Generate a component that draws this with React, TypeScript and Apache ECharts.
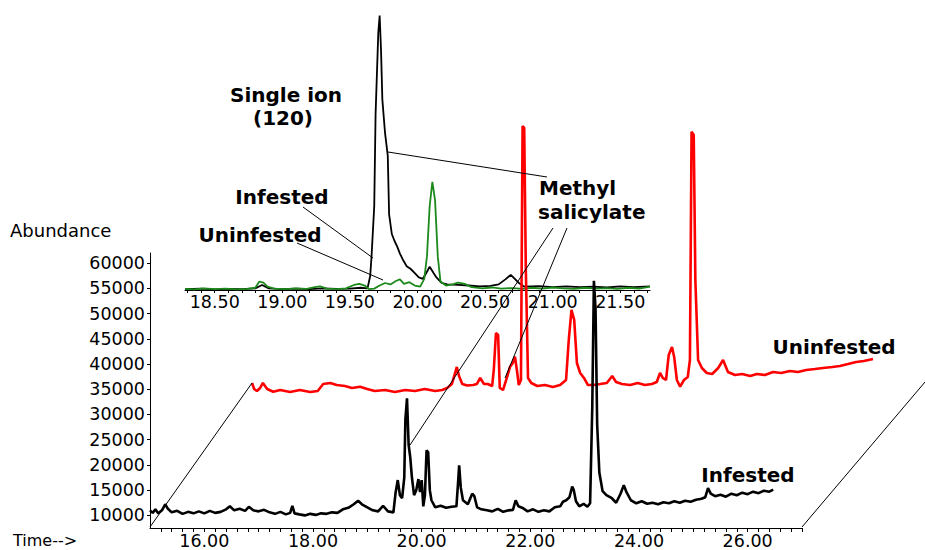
import React, { useEffect, useRef } from "react";
import * as echarts from "echarts";

// ---------- Main chromatogram (total ion), infested sample: [time (min), abundance]
const infestedTIC: [number, number][] = [
  [15.0, 11000], [15.05, 10500], [15.1, 11200], [15.15, 10400], [15.22, 11000], [15.28, 12200],
  [15.33, 11300], [15.4, 10600], [15.5, 10900], [15.6, 10300], [15.7, 10700], [15.8, 10400],
  [15.9, 10800], [16.0, 10400], [16.1, 10900], [16.2, 10500], [16.3, 10700], [16.4, 11200],
  [16.47, 11800], [16.55, 11000], [16.65, 11300], [16.75, 10900], [16.82, 11700], [16.9, 11000],
  [17.0, 10800], [17.1, 11100], [17.2, 10600], [17.3, 10300], [17.4, 10700], [17.5, 10200],
  [17.58, 10500], [17.62, 11900], [17.66, 10400], [17.75, 10200], [17.85, 10000], [17.95, 10300],
  [18.05, 10100], [18.15, 10400], [18.25, 10300], [18.35, 10600], [18.45, 10500], [18.55, 11200],
  [18.65, 11500], [18.75, 12200], [18.83, 12900], [18.9, 12200], [19.0, 11600], [19.1, 11000],
  [19.2, 10800], [19.29, 11900], [19.38, 10800], [19.48, 10600], [19.52, 14500], [19.56, 17000],
  [19.6, 14000], [19.64, 13400], [19.68, 17500], [19.7, 29000], [19.73, 33200], [19.76, 24000],
  [19.79, 21500], [19.82, 17600], [19.86, 14000], [19.9, 15000], [19.94, 17200], [19.97, 14600],
  [20.0, 17000], [20.03, 11800], [20.06, 14000], [20.09, 22900], [20.12, 22500], [20.15, 15000],
  [20.18, 13000], [20.25, 11600], [20.35, 11900], [20.45, 11500], [20.55, 11700], [20.64, 11800],
  [20.67, 16500], [20.69, 19900], [20.72, 15500], [20.76, 13000], [20.85, 12200], [20.93, 14300],
  [20.97, 13800], [21.02, 11600], [21.1, 11200], [21.2, 11000], [21.3, 10800], [21.4, 11300],
  [21.5, 10700], [21.6, 11000], [21.68, 11100], [21.73, 13000], [21.78, 11800], [21.87, 11400],
  [21.95, 10800], [22.05, 11200], [22.15, 10700], [22.25, 11000], [22.35, 10800], [22.45, 11600],
  [22.55, 11800], [22.6, 12700], [22.66, 13000], [22.72, 13600], [22.77, 15700], [22.8, 15000],
  [22.84, 12800], [22.9, 11800], [22.98, 12300], [23.05, 11700], [23.1, 12400], [23.14, 31500],
  [23.17, 56500], [23.2, 51000], [23.23, 28000], [23.27, 18500], [23.33, 14800], [23.4, 14000],
  [23.5, 13400], [23.58, 12500], [23.66, 14300], [23.72, 16000], [23.77, 14600], [23.85, 13000],
  [23.95, 12400], [24.05, 12800], [24.15, 12300], [24.25, 12500], [24.35, 12200], [24.45, 12600],
  [24.55, 12400], [24.65, 12800], [24.75, 12500], [24.85, 12900], [24.95, 12700], [25.05, 13100],
  [25.15, 13300], [25.22, 13600], [25.27, 15400], [25.32, 14300], [25.4, 13800], [25.5, 14100],
  [25.6, 13700], [25.7, 14300], [25.8, 14000], [25.9, 14500], [26.0, 14200], [26.1, 14700],
  [26.2, 14400], [26.3, 14900], [26.4, 14700], [26.47, 15100],
];

// ---------- Main chromatogram (total ion), uninfested sample (drawn on the offset "back" plane)
const uninfestedTIC: [number, number][] = [
  [15.0, 12460], [15.04, 11270], [15.09, 10870], [15.15, 11470], [15.2, 12460], [15.28, 11270],
  [15.39, 10730], [15.52, 11070], [15.7, 10670], [15.88, 11070], [16.07, 10670], [16.21, 10870],
  [16.31, 12260], [16.44, 12460], [16.56, 12060], [16.71, 11860], [16.84, 11470], [16.99, 11720],
  [17.12, 11270], [17.26, 10870], [17.45, 11070], [17.63, 10670], [17.82, 11070], [18.0, 10870],
  [18.18, 11270], [18.37, 10870], [18.5, 11070], [18.59, 11470], [18.68, 12260], [18.77, 15630],
  [18.81, 13850], [18.87, 12260], [18.96, 11960], [19.07, 12060], [19.14, 12260], [19.2, 13450],
  [19.27, 12260], [19.34, 12260], [19.42, 11860], [19.45, 15030], [19.49, 22370], [19.53, 21970],
  [19.56, 11470], [19.62, 11070], [19.69, 13450], [19.75, 15690], [19.8, 16420], [19.84, 17670],
  [19.88, 14640], [19.91, 12060], [19.95, 13050], [19.98, 63390], [20.01, 63000], [20.04, 34860],
  [20.08, 13450], [20.14, 12460], [20.25, 11860], [20.39, 12060], [20.54, 11670], [20.67, 12060],
  [20.78, 13050], [20.83, 20980], [20.88, 26930], [20.93, 24950], [20.98, 16420], [21.04, 14440],
  [21.11, 13450], [21.18, 12060], [21.28, 12060], [21.41, 12260], [21.53, 12460], [21.63, 13850],
  [21.7, 12660], [21.81, 12260], [21.96, 12060], [22.1, 12460], [22.23, 12060], [22.36, 12260],
  [22.45, 12660], [22.51, 14440], [22.56, 13450], [22.62, 13050], [22.67, 18010], [22.73, 19600],
  [22.77, 17610], [22.82, 13050], [22.88, 11720], [22.95, 13050], [23.02, 13640], [23.06, 17020],
  [23.09, 62270], [23.13, 61600], [23.16, 32870], [23.21, 17020], [23.28, 15430], [23.37, 14440],
  [23.47, 14240], [23.58, 15430], [23.67, 17020], [23.76, 14640], [23.89, 14040], [24.02, 14240],
  [24.17, 13850], [24.29, 14240], [24.44, 14040], [24.59, 14640], [24.74, 14440], [24.9, 14840],
  [25.05, 14640], [25.2, 15030], [25.36, 15230], [25.51, 15430], [25.68, 15630], [25.82, 15830],
  [25.97, 16220], [26.12, 16620], [26.26, 16820], [26.43, 17220],
];

// ---------- Inset: single ion 120, relative response (% of inset height)
const infestedIon120: [number, number][] = [
  [18.28, 0.3], [18.4, 0.5], [18.5, 0.2], [18.6, 0.4], [18.7, 0.3], [18.8, 0.6], [18.85, 1.8],
  [18.9, 0.6], [19.0, 0.3], [19.1, 0.5], [19.2, 0.3], [19.3, 0.6], [19.4, 0.4], [19.5, 0.5],
  [19.58, 0.8], [19.63, 0.6], [19.65, 5], [19.66, 12], [19.68, 30], [19.69, 63], [19.71, 92],
  [19.72, 98], [19.73, 86], [19.74, 68], [19.76, 56], [19.78, 48], [19.79, 27], [19.81, 20],
  [19.83, 17.5], [19.85, 15.5], [19.87, 13], [19.89, 11], [19.92, 8.5], [19.95, 7.5], [19.98, 6],
  [20.01, 4.5], [20.04, 4.0], [20.07, 6.5], [20.09, 8.3], [20.12, 6], [20.14, 4.5], [20.18, 2.5],
  [20.22, 2.0], [20.3, 1.8], [20.38, 1.6], [20.46, 1.3], [20.54, 1.5], [20.6, 2.0], [20.65, 3.8],
  [20.69, 5.4], [20.72, 4.0], [20.75, 2.5], [20.79, 1.2], [20.9, 1.4], [21.0, 1.0], [21.1, 1.3],
  [21.2, 1.0], [21.3, 1.2], [21.4, 0.9], [21.5, 1.3], [21.6, 1.0], [21.72, 1.3],
];

const uninfestedIon120: [number, number][] = [
  [18.28, 0.4], [18.35, 0.2], [18.42, 0.6], [18.5, 0.3], [18.58, 0.5], [18.66, 0.2], [18.74, 0.4],
  [18.8, 0.8], [18.83, 3.0], [18.86, 2.6], [18.89, 1.2], [18.94, 0.5], [19.02, 0.3], [19.1, 0.6],
  [19.18, 0.4], [19.24, 1.0], [19.28, 1.3], [19.33, 0.5], [19.4, 0.3], [19.47, 0.6], [19.53, 1.8],
  [19.57, 2.2], [19.61, 1.6], [19.64, 0.3], [19.68, 0.5], [19.72, 1.6], [19.76, 2.5], [19.8, 2.0],
  [19.84, 3.2], [19.87, 3.8], [19.9, 2.2], [19.94, 2.8], [19.98, 1.6], [20.02, 1.2], [20.05, 4.0],
  [20.07, 12], [20.09, 30], [20.11, 38.6], [20.13, 32], [20.15, 12], [20.17, 3.0], [20.21, 1.6],
  [20.26, 2.0], [20.3, 2.6], [20.35, 2.2], [20.4, 1.0], [20.48, 0.6], [20.55, 0.9], [20.62, 0.5],
  [20.7, 0.7], [20.78, 0.4], [20.85, 0.8], [20.92, 0.5], [21.0, 0.9], [21.08, 0.6], [21.16, 0.4],
  [21.24, 0.8], [21.32, 0.5], [21.4, 0.7], [21.48, 0.4], [21.56, 0.8], [21.64, 0.5], [21.72, 1.2],
];

// ---------- Tick labels
const timeTickLabels = [16, 18, 20, 22, 24, 26];
const abundanceTickLabels = [10000, 15000, 20000, 25000, 30000, 35000, 40000, 45000, 50000, 55000, 60000];
const insetTickLabels = [18.5, 19.0, 19.5, 20.0, 20.5, 21.0, 21.5];

const FONT = '"DejaVu Sans", "Liberation Sans", sans-serif';

function steps(from: number, to: number, step: number): number[] {
  const out: number[] = [];
  const n = Math.round((to - from) / step);
  for (let i = 0; i <= n; i++) out.push(Math.round((from + i * step) * 1000) / 1000);
  return out;
}

export default function App() {
  const ref = useRef<HTMLDivElement>(null);

  useEffect(() => {
    if (!ref.current) return;
    const chart = echarts.init(ref.current, undefined, { renderer: "svg" });

    const labelStyle = { color: "#000", fontFamily: FONT, fontSize: 17.5 };
    const boldText = (x: number, y: number, text: string, align: string = "center") => ({
      type: "text",
      x,
      y,
      z: 100,
      style: {
        text,
        fill: "#000",
        font: `bold 20px ${FONT}`,
        textAlign: align,
        textVerticalAlign: "middle",
      },
    });
    const leader = (x1: number, y1: number, x2: number, y2: number) => ({
      type: "line",
      z: 90,
      shape: { x1, y1, x2, y2 },
      style: { stroke: "#000", lineWidth: 1 },
    });

    const option: any = {
      animation: false,
      backgroundColor: "#fff",
      grid: [
        { left: 150, top: 253, width: 652, height: 275 },
        { left: 252, top: 92.63, width: 652, height: 315.37 },
        { left: 185, top: 10, width: 465, height: 280 },
      ],
      xAxis: [
        {
          type: "value",
          gridIndex: 0,
          min: 15,
          max: 27,
          axisLine: { show: true, onZero: false, lineStyle: { color: "#000", width: 1 } },
          axisTick: {
            show: true,
            inside: false,
            length: 4,
            customValues: steps(15.2, 27, 0.2),
            lineStyle: { color: "#000" },
          },
          axisLabel: {
            ...labelStyle,
            margin: 4,
            customValues: timeTickLabels,
            formatter: (v: number) => v.toFixed(2),
          },
          splitLine: { show: false },
        },
        {
          type: "value",
          gridIndex: 1,
          min: 15,
          max: 27,
          show: false,
          splitLine: { show: false },
        },
        {
          type: "value",
          gridIndex: 2,
          min: 18.28,
          max: 21.72,
          axisLine: { show: true, onZero: false, lineStyle: { color: "#000", width: 1 } },
          axisTick: {
            show: true,
            inside: false,
            length: 3,
            customValues: steps(18.3, 21.7, 0.1),
            lineStyle: { color: "#000" },
          },
          axisLabel: {
            ...labelStyle,
            margin: 3,
            customValues: insetTickLabels,
            formatter: (v: number) => v.toFixed(2),
          },
          splitLine: { show: false },
        },
      ],
      yAxis: [
        {
          type: "value",
          gridIndex: 0,
          min: 7500,
          max: 62000,
          axisLine: { show: true, onZero: false, lineStyle: { color: "#000", width: 1 } },
          axisTick: {
            show: true,
            inside: false,
            length: 3,
            customValues: abundanceTickLabels,
            lineStyle: { color: "#000" },
          },
          axisLabel: {
            ...labelStyle,
            margin: 5,
            padding: [6, 0, 0, 0],
            customValues: abundanceTickLabels,
            formatter: (v: number) => String(v),
          },
          splitLine: { show: false },
        },
        {
          type: "value",
          gridIndex: 1,
          min: 7500,
          max: 70000,
          show: false,
          splitLine: { show: false },
        },
        {
          type: "value",
          gridIndex: 2,
          min: 0,
          max: 100,
          show: false,
          splitLine: { show: false },
        },
      ],
      series: [
        {
          name: "Uninfested (ion 120)",
          type: "line",
          xAxisIndex: 2,
          yAxisIndex: 2,
          data: uninfestedIon120,
          showSymbol: false,
          z: 3,
          clip: false,
          lineStyle: { color: "#1b8a1b", width: 1.8 },
        },
        {
          name: "Infested (ion 120)",
          type: "line",
          xAxisIndex: 2,
          yAxisIndex: 2,
          data: infestedIon120,
          showSymbol: false,
          z: 2,
          clip: false,
          lineStyle: { color: "#000", width: 1.8 },
        },
        {
          name: "Uninfested",
          type: "line",
          xAxisIndex: 1,
          yAxisIndex: 1,
          data: uninfestedTIC,
          showSymbol: false,
          z: 4,
          clip: false,
          lineStyle: { color: "#ff0000", width: 2.6 },
        },
        {
          name: "Infested",
          type: "line",
          xAxisIndex: 0,
          yAxisIndex: 0,
          data: infestedTIC,
          showSymbol: false,
          z: 5,
          clip: false,
          lineStyle: { color: "#000", width: 2.6 },
        },
      ],
      graphic: [
        // perspective lines of the stacked plot
        leader(150, 527, 252, 383),
        leader(802, 527, 925, 382),
        // annotation leaders
        leader(388, 152, 547, 177),
        leader(303, 207, 373, 258),
        leader(297, 243, 383, 280),
        leader(553, 228, 410, 445),
        leader(567, 228, 505, 378),
        // texts
        {
          type: "text",
          x: 10,
          y: 230,
          z: 100,
          style: { text: "Abundance", fill: "#000", font: `18px ${FONT}`, textVerticalAlign: "middle" },
        },
        {
          type: "text",
          x: 13,
          y: 540,
          z: 100,
          style: { text: "Time-->", fill: "#000", font: `16px ${FONT}`, textVerticalAlign: "middle" },
        },
        boldText(286, 95, "Single ion"),
        boldText(283, 118, "(120)"),
        boldText(282, 197, "Infested"),
        boldText(260, 235, "Uninfested"),
        boldText(539, 188, "Methyl", "left"),
        boldText(538, 212, "salicylate", "left"),
        boldText(834, 347, "Uninfested"),
        boldText(748, 475, "Infested"),
      ],
    };

    chart.setOption(option);
    return () => chart.dispose();
  }, []);

  return (
    <div
      ref={ref}
      style={{ position: "fixed", left: 0, top: 0, width: 925, height: 550, background: "#fff" }}
    />
  );
}
